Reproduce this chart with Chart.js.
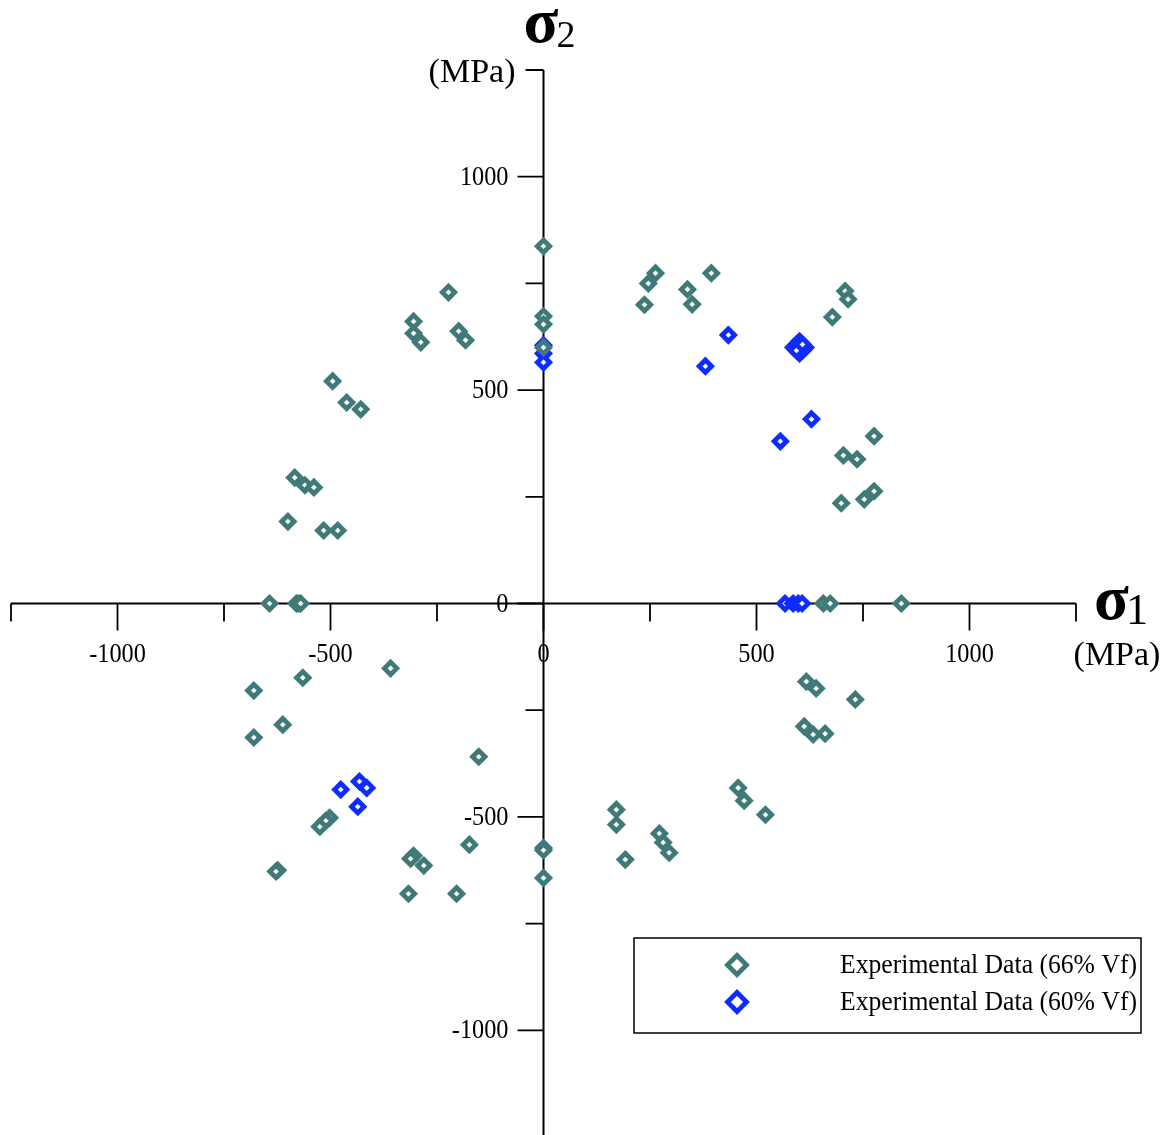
<!DOCTYPE html>
<html>
<head>
<meta charset="utf-8">
<script src="https://cdn.jsdelivr.net/npm/chart.js@4/dist/chart.umd.min.js"></script>
<style>
html,body{margin:0;padding:0;background:#fff;overflow:hidden;height:1135px;}
canvas{display:block;}
</style>
</head>
<body>
<canvas id="c" width="1167" height="1148"></canvas>
<script>
// ---- Data (MPa) ----
const seriesLabels = ['Experimental Data (66% Vf)', 'Experimental Data (60% Vf)'];

const sigma1_66 = [
  -223,-305,-305,-288,-199,-183,-495,-462,-429,-584,-560,-539,-600,-516,-483,-643,-580,-575,-570,
  0,0,0,0,
  237,246,263,338,349,394,678,708,715,776,704,736,699,753,776,657,673,840,
  617,640,732,612,633,661,457,471,521,171,171,192,272,281,295,0,0,0,
  -359,-565,-680,-612,-680,-152,-502,-511,-525,-174,-305,-312,-281,-624,-628,-317,-204
];
const sigma2_66 = [
  729,661,633,612,638,617,521,471,455,295,277,272,192,171,171,0,0,0,0,
  837,673,654,600,
  700,750,774,736,701,774,671,732,713,392,347,338,235,244,263,0,0,0,
  -183,-199,-225,-288,-307,-305,-432,-462,-495,-483,-518,-600,-539,-560,-584,-573,-578,-643,
  -152,-174,-204,-284,-314,-359,-502,-509,-523,-565,-591,-598,-614,-625,-628,-680,-680
];

const sigma1_60 = [0,0,0, 434,380, 587,615,601,601,601,594,608,594,608, 556,629, 567,586,598,607, -476,-432,-415,-436];
const sigma2_60 = [605,586,565, 629,556, 600,600,614,586,600,607,593,593,607, 380,432, 0,0,0,0, -436,-417,-432,-476];

const axisMin = -1250, axisMax = 1250, tickStep = 250, labelStep = 500;

const teal = '#407a78';
const blue = '#0f2cff';

function toPoints(xs, ys){ return xs.map((v,i)=>({x:v, y:ys[i]})); }

const serif = '"Liberation Serif", "Times New Roman", serif';

const axesPlugin = {
  id: 'axesDraw',
  beforeDatasetsDraw(chart){
    const {ctx, chartArea:a, scales:{x, y}} = chart;
    const x0 = x.getPixelForValue(0), y0 = y.getPixelForValue(0);
    ctx.save();
    ctx.strokeStyle = '#000';
    ctx.lineWidth = 2;
    ctx.beginPath();
    ctx.moveTo(a.left, y0); ctx.lineTo(a.right, y0);
    ctx.moveTo(x0, a.top); ctx.lineTo(x0, a.bottom + 4);
    ctx.stroke();
    ctx.lineWidth = 1.8;
    ctx.beginPath();
    x.ticks.forEach(t => {
      const px = x.getPixelForValue(t.value);
      const len = (t.value % labelStep === 0) ? 27 : 18;
      ctx.moveTo(px, y0); ctx.lineTo(px, y0 + len);
    });
    y.ticks.forEach(t => {
      const py = y.getPixelForValue(t.value);
      const len = (t.value % labelStep === 0) ? 26 : 18;
      ctx.moveTo(x0, py); ctx.lineTo(x0 - len, py);
    });
    ctx.stroke();
    // tick labels
    ctx.fillStyle = '#000';
    ctx.font = '27px ' + serif;
    ctx.textBaseline = 'middle';
    x.ticks.forEach(t => {
      if (!t.label) return;
      const px = x.getPixelForValue(t.value);
      ctx.save(); ctx.translate(px, y0 + 51); ctx.scale(0.9, 1);
      ctx.textAlign = 'center'; ctx.fillText(t.label, 0, 0); ctx.restore();
    });
    y.ticks.forEach(t => {
      if (!t.label) return;
      const py = y.getPixelForValue(t.value);
      ctx.save(); ctx.translate(x0 - 35, py + 1); ctx.scale(0.9, 1);
      ctx.textAlign = 'right'; ctx.fillText(t.label, 0, 0); ctx.restore();
    });
    ctx.restore();
  },
  afterDraw(chart){
    const {ctx, scales:{x, y}} = chart;
    const x0 = x.getPixelForValue(0), y0 = y.getPixelForValue(0);
    const xEnd = x.getPixelForValue(axisMax), yTop = y.getPixelForValue(axisMax);
    ctx.save();
    ctx.fillStyle = '#000';
    ctx.textBaseline = 'alphabetic';
    // sigma 2 (vertical axis title)
    ctx.font = 'bold 64px ' + serif;
    ctx.textAlign = 'left';
    ctx.fillText('σ', x0 - 20, 42);
    ctx.font = '38px ' + serif;
    ctx.fillText('2', x0 + 13, 47);
    ctx.font = '34px ' + serif;
    ctx.textAlign = 'right';
    ctx.textBaseline = 'middle';
    ctx.fillText('(MPa)', x0 - 28, yTop + 3);
    // sigma 1 (horizontal axis title)
    ctx.textBaseline = 'alphabetic';
    ctx.textAlign = 'left';
    ctx.font = 'bold 64px ' + serif;
    ctx.fillText('σ', xEnd + 18, y0 + 15);
    ctx.font = '44px ' + serif;
    ctx.fillText('1', xEnd + 50, y0 + 20);
    ctx.font = '34px ' + serif;
    ctx.textAlign = 'center';
    ctx.textBaseline = 'middle';
    ctx.fillText('(MPa)', xEnd + 41, y0 + 53);

    // legend
    const bx = 634, by = 938, bw = 507, bh = 95;
    ctx.lineWidth = 1.5;
    ctx.strokeStyle = '#000';
    ctx.strokeRect(bx, by, bw, bh);
    chart.data.datasets.forEach((ds, i) => {
      const cy = by + 27 + i * 37;
      ctx.save();
      ctx.fillStyle = '#fff';
      ctx.strokeStyle = ds.borderColor;
      ctx.lineWidth = 4.8;
      Chart.helpers.drawPoint(ctx, {pointStyle:'rectRot', radius:9.5, rotation:0, borderWidth:4.8}, 737, cy);
      ctx.restore();
      ctx.save();
      ctx.fillStyle = '#000';
      ctx.font = '27px ' + serif;
      ctx.textBaseline = 'middle';
      ctx.textAlign = 'right';
      ctx.translate(1137, cy + 1);
      ctx.scale(0.95, 1);
      ctx.fillText(ds.label, 0, 0);
      ctx.restore();
    });
    ctx.restore();
  }
};

new Chart(document.getElementById('c'), {
  type: 'scatter',
  data: {
    datasets: [
      {
        label: seriesLabels[0],
        data: toPoints(sigma1_66, sigma2_66),
        pointStyle: 'rectRot',
        pointRadius: 6.2,
        pointBorderWidth: 4.8,
        borderColor: teal,
        backgroundColor: '#fff',
        pointBackgroundColor: '#fff',
        pointBorderColor: teal
      },
      {
        label: seriesLabels[1],
        data: toPoints(sigma1_60, sigma2_60),
        pointStyle: 'rectRot',
        pointRadius: 6.2,
        pointBorderWidth: 4.8,
        borderColor: blue,
        backgroundColor: '#fff',
        pointBackgroundColor: '#fff',
        pointBorderColor: blue
      }
    ]
  },
  options: {
    responsive: false,
    animation: false,
    layout: { padding: { left: 10, right: 91, top: 70, bottom: 0 } },
    plugins: { legend: { display: false }, tooltip: { enabled: false } },
    scales: {
      x: {
        type: 'linear',
        position: { y: 0 },
        min: axisMin, max: axisMax,
        grid: { display: false },
        border: { display: false },
        ticks: {
          display: false,
          stepSize: tickStep,
          callback: v => (v % labelStep === 0 && Math.abs(v) < axisMax) ? String(v) : ''
        }
      },
      y: {
        type: 'linear',
        position: { x: 0 },
        min: axisMin, max: axisMax,
        grid: { display: false },
        border: { display: false },
        ticks: {
          display: false,
          stepSize: tickStep,
          callback: v => (v % labelStep === 0 && Math.abs(v) < axisMax) ? String(v) : ''
        }
      }
    }
  },
  plugins: [axesPlugin]
});
</script>
</body>
</html>
